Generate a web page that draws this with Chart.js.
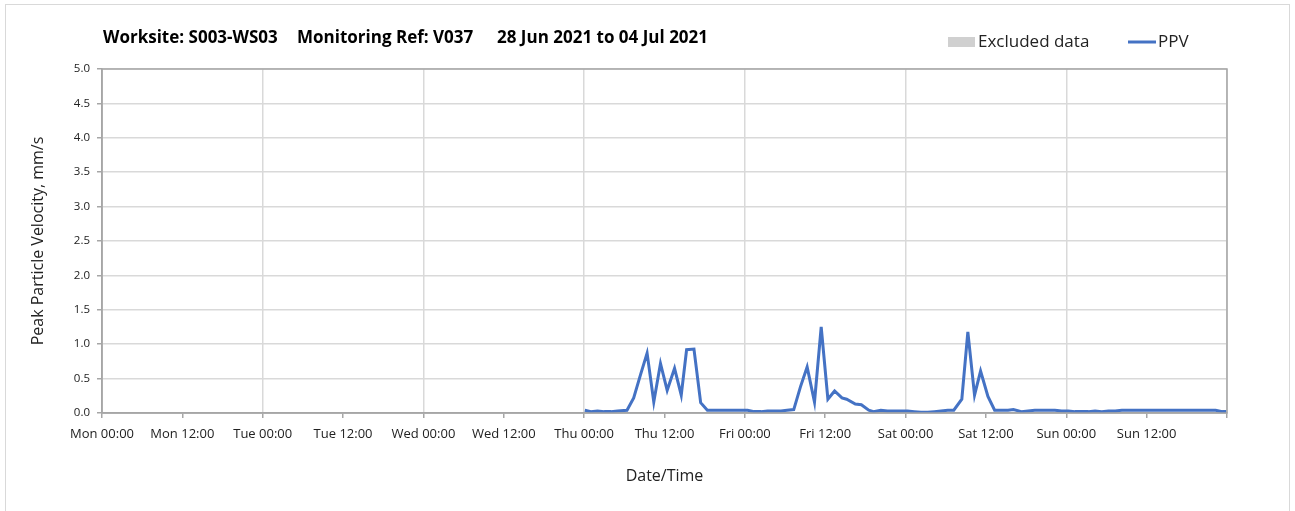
<!DOCTYPE html>
<html>
<head>
<meta charset="utf-8">
<script src="https://cdn.jsdelivr.net/npm/chart.js@4.4.0/dist/chart.umd.min.js"></script>
<style>
  html, body { margin: 0; padding: 0; background: #fff; }
  #wrap { width: 1295px; height: 511px; position: relative; }
</style>
</head>
<body>
<div id="wrap"><canvas id="ppvChart"></canvas></div>
<script>
// Hours since Mon 00:00 and PPV readings (mm/s)
const hours = [
  72.1, 73, 74, 75, 76, 77, 78.4, 79.4, 80.4, 81.4, 82.4, 83.4, 84.4, 85.5, 86.5, 87.3, 88.4, 89.4,
  90.4, 91.4, 92.4, 93.4, 94.4, 95.4, 96.4, 97.4, 98.4, 99.4, 100.4, 101.4, 102.3, 103.3, 104.3,
  105.3, 106.4, 107.4, 108.4, 109.4, 110.5, 111.2, 112.5, 113.4, 114.5, 115.2, 116.3, 117.3, 118.3,
  119.3, 120.3, 121.3, 122.3, 123.3, 124.3, 125.3, 126.3, 127.2, 128.4, 129.3, 130.3, 131.2, 132.3,
  133.3, 134.3, 135.3, 136.1, 137.3, 138.3, 139.3, 140.3, 141.3, 142.3, 143.3, 144.3, 145.3, 146.3,
  147.3, 148.3, 149.3, 150.3, 151.3, 152.3, 153.3, 154.3, 155.3, 156.3, 157.3, 158.3, 159.3, 160.3,
  161.3, 162.3, 163.3, 164.3, 165.3, 166.3, 167.3, 167.9
];
const ppv = [
  0.04, 0.02, 0.03, 0.02, 0.02, 0.03, 0.04, 0.22, 0.55, 0.87, 0.16, 0.72, 0.33, 0.65, 0.26, 0.92, 0.93, 0.15,
  0.04, 0.04, 0.04, 0.04, 0.04, 0.04, 0.04, 0.02, 0.02, 0.03, 0.03, 0.03, 0.04, 0.05, 0.38,
  0.67, 0.16, 1.25, 0.20, 0.32, 0.22, 0.20, 0.13, 0.12, 0.04, 0.02, 0.04, 0.03, 0.03,
  0.03, 0.03, 0.02, 0.01, 0.01, 0.02, 0.03, 0.04, 0.04, 0.20, 1.18, 0.26, 0.61, 0.24,
  0.04, 0.04, 0.04, 0.05, 0.02, 0.03, 0.04, 0.04, 0.04, 0.04, 0.03, 0.03, 0.02, 0.02,
  0.02, 0.03, 0.02, 0.03, 0.03, 0.04, 0.04, 0.04, 0.04, 0.04, 0.04, 0.04, 0.04, 0.04,
  0.04, 0.04, 0.04, 0.04, 0.04, 0.04, 0.02, 0.02
];
const dayNames = ['Mon', 'Tue', 'Wed', 'Thu', 'Fri', 'Sat', 'Sun'];
const titleParts = ['Worksite: S003-WS03', 'Monitoring Ref: V037', '28 Jun 2021 to 04 Jul 2021'];
const legendLabels = ['Excluded data', 'PPV'];

const FONT = "'Open Sans', 'DejaVu Sans', sans-serif";
const LINE_BLUE = '#4472c4';
const AXIS_GREY = '#a6a6a6';
const GRID_GREY = '#d9d9d9';

// Draws the outer frame, the plot frame, header title and legend
const decorations = {
  id: 'decorations',
  beforeDraw(chart) {
    const ctx = chart.ctx;
    ctx.save();
    ctx.strokeStyle = GRID_GREY;
    ctx.lineWidth = 1;
    ctx.strokeRect(5.5, 4.5, 1284, 530);
    ctx.restore();
  },
  afterDraw(chart) {
    const ctx = chart.ctx;
    const a = chart.chartArea;
    ctx.save();
    ctx.strokeStyle = AXIS_GREY;
    ctx.lineWidth = 1.5;
    ctx.strokeRect(a.left, a.top, a.right - a.left, a.bottom - a.top);

    // title
    ctx.fillStyle = '#000';
    ctx.font = "bold 17px " + FONT;
    ctx.textBaseline = 'middle';
    const tx = [103, 297, 497];
    titleParts.forEach((t, i) => ctx.fillText(t, tx[i], 38));

    // legend
    ctx.font = "17px " + FONT;
    ctx.fillStyle = '#d0d0d0';
    ctx.fillRect(948, 37, 27, 10);
    ctx.fillStyle = '#222';
    ctx.fillText(legendLabels[0], 978, 42);
    ctx.strokeStyle = LINE_BLUE;
    ctx.lineWidth = 3;
    ctx.beginPath();
    ctx.moveTo(1128, 42);
    ctx.lineTo(1156, 42);
    ctx.stroke();
    ctx.fillText(legendLabels[1], 1158, 42);
    ctx.restore();
  }
};

const ctx = document.getElementById('ppvChart').getContext('2d');
new Chart(ctx, {
  type: 'line',
  data: {
    datasets: [{
      label: 'PPV',
      data: hours.map((h, i) => ({ x: h, y: ppv[i] })),
      borderColor: LINE_BLUE,
      borderWidth: 3,
      pointRadius: 0,
      fill: false,
      tension: 0
    }]
  },
  options: {
    responsive: true,
    maintainAspectRatio: false,
    animation: false,
    layout: { padding: { top: 69, right: 68, bottom: 21, left: 0 } },
    plugins: {
      legend: { display: false },
      tooltip: { enabled: false }
    },
    scales: {
      x: {
        type: 'linear',
        min: 0,
        max: 168,
        afterFit(scale) { scale.height = 77; },
        ticks: {
          stepSize: 12,
          autoSkip: false,
          maxRotation: 0,
          padding: 8,
          color: '#222',
          font: { family: FONT, size: 13 },
          callback(v) {
            if (v >= 168) return '';
            const d = dayNames[Math.floor(v / 24)];
            return d + (v % 24 === 0 ? ' 00:00' : ' 12:00');
          }
        },
        grid: {
          color: c => (c.tick && c.tick.value % 24 === 0 ? GRID_GREY : 'rgba(0,0,0,0)'),
          tickColor: AXIS_GREY,
          tickLength: 5,
          lineWidth: 1.5
        },
        border: { color: AXIS_GREY, width: 1.5 },
        title: {
          display: true,
          text: 'Date/Time',
          color: '#222',
          font: { family: FONT, size: 16 },
          padding: { top: 0 }
        }
      },
      y: {
        min: 0,
        max: 5,
        afterFit(scale) { scale.width = 102; },
        ticks: {
          stepSize: 0.5,
          padding: 7,
          color: '#222',
          font: { family: FONT, size: 11.5 },
          callback: v => v.toFixed(1)
        },
        grid: {
          color: GRID_GREY,
          tickColor: AXIS_GREY,
          tickLength: 5,
          lineWidth: 1.5
        },
        border: { color: AXIS_GREY, width: 1.5 },
        title: {
          display: true,
          text: 'Peak Particle Velocity, mm/s',
          color: '#222',
          font: { family: FONT, size: 16 },
          padding: { top: 29, bottom: 0 }
        }
      }
    }
  },
  plugins: [decorations]
});
</script>
</body>
</html>
